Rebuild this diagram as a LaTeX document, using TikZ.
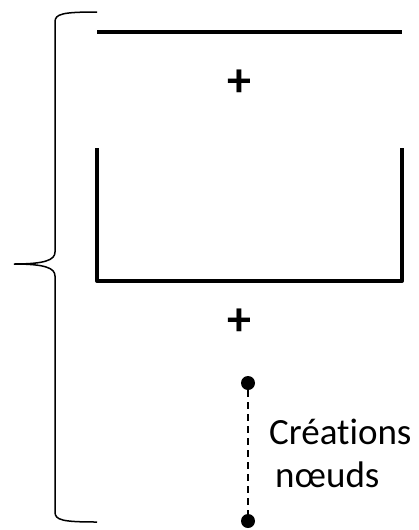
\documentclass[tikz,border=0pt]{standalone}
\usepackage{fontspec}
\setmainfont[Ligatures=NoCommon]{Carlito}
\begin{document}
\begin{tikzpicture}[x=1pt,y=-1pt,
  thickline/.style={line width=4pt},
  dotnode/.style={circle,fill=black,inner sep=0pt,minimum size=14pt},
  lbl/.style={font=\fontsize{37}{44}\selectfont,inner sep=0pt},
  plusl/.style={font=\fontsize{48}{50}\selectfont\bfseries,inner sep=0pt},
  bracepath/.style={line width=1.5pt}]
\useasboundingbox (0,0) rectangle (418,530);
% brace
\draw[bracepath] (97,12) .. controls (62,12) and (55,14) .. (55,22) -- (55,252)
  .. controls (55,260) and (45,264) .. (14,264)
  .. controls (45,264) and (55,268) .. (55,276) -- (55,512)
  .. controls (55,520) and (62,522) .. (97,522);
% top line
\draw[thickline] (97,32) -- (402,32);
\node[plusl] (plus1) at (239,83) {+};
% U shape
\draw[thickline,line join=round] (97,148) -- (97,281) -- (402,281) -- (402,148);
\node[plusl] (plus2) at (239,322) {+};
% dashed segment with dots
\node[dotnode] (d1) at (248,383) {};
\node[dotnode] (d2) at (248,521) {};
\draw[line width=1.6pt,dash pattern=on 7pt off 5pt] (d1) -- (d2);
\node[lbl,anchor=west] (t1) at (269,432) {Créations};
\node[lbl,anchor=west] (t2) at (275,475) {nœuds};
\end{tikzpicture}
\end{document}
